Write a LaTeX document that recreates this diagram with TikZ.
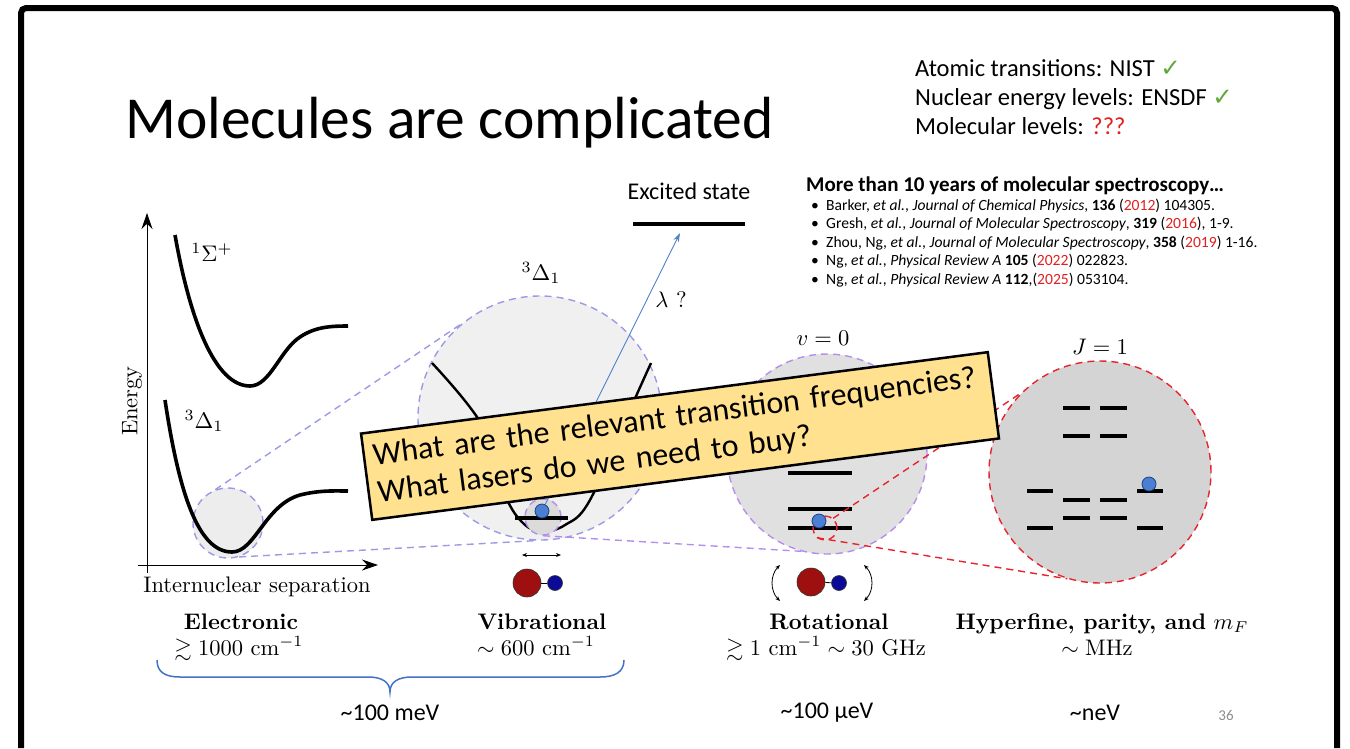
\documentclass[tikz,border=0pt]{standalone}
\usepackage{amsmath,amssymb}
\usepackage{graphicx}
\usepackage{fontspec}
\newfontfamily\carlito{Carlito}
\newfontfamily\dejavu{DejaVu Sans}
\usetikzlibrary{arrows.meta}

\definecolor{lavblue}{HTML}{9C9AE4}
\definecolor{lavviolet}{HTML}{B78DEB}
\definecolor{zoomred}{HTML}{E8232D}
\definecolor{ballblue}{HTML}{4A7FD3}
\definecolor{balledge}{HTML}{1E3F80}
\definecolor{atomred}{HTML}{9E1010}
\definecolor{atomblue}{HTML}{0B0B98}
\definecolor{arrowblue}{HTML}{4F81C8}
\definecolor{bracecol}{HTML}{4472C4}
\definecolor{notegold}{HTML}{FFE18F}
\definecolor{checkgreen}{HTML}{5DAA3A}
\definecolor{yearred}{HTML}{E02020}

% Computer Modern labels, set at 10pt and enlarged
\newcommand{\lmx}[1]{\scalebox{2.25}{#1}}
% Carlito at a given size (and line distance)
\newcommand{\csize}[1]{\carlito\fontsize{#1}{#1}\selectfont}
\newcommand{\csizeb}[2]{\carlito\fontsize{#1}{#2}\selectfont}
\newcommand{\okmark}{{\dejavu\color{checkgreen}✓}}

\tikzset{
  txt/.style={inner sep=0pt},
  potcurve/.style={line width=3.6pt},
  levelbar/.style={line width=3.6pt},
  ring/.style={circle, inner sep=0pt, line width=1.4pt, dash pattern=on 7pt off 5pt},
  guide/.style={line width=1.4pt, dash pattern=on 7pt off 5pt},
  ball/.style={circle, inner sep=0pt, minimum size=14pt, fill=ballblue, draw=balledge, line width=0.8pt},
  bigatom/.style={circle, inner sep=0pt, minimum size=28pt, fill=atomred, draw=black!80, line width=0.6pt},
  smallatom/.style={circle, inner sep=0pt, minimum size=15pt, fill=atomblue, draw=black!80, line width=0.6pt},
  refline/.style={txt, anchor=base west, font=\csize{15.6}},
  axis/.style={line width=0.9pt, -{Stealth[length=16pt,width=11pt]}},
}

\begin{document}
\begin{tikzpicture}[x=1pt,y=-1pt]
\useasboundingbox (0,0) rectangle (1350,748);

% slide frame
\draw[line width=6pt, rounded corners=5pt] (21,748) -- (21,8) -- (1337,8) -- (1337,748);

% title and notes
\node[txt, anchor=base west, font=\csize{59.5}] (title) at (125,138) {Molecules are complicated};
\node[txt, anchor=base west, font=\csize{24.5}] (nist) at (915,76) {Atomic transitions: NIST \okmark};
\node[txt, anchor=base west, font=\csize{24.5}] (ensdf) at (915,105) {Nuclear energy levels: ENSDF \okmark};
\node[txt, anchor=base west, font=\csize{24.5}] (mol) at (915,134) {Molecular levels: \textcolor{yearred}{???}};

% references
\node[txt, anchor=base west, font=\csize{21}\bfseries] (refhead) at (806,191) {More than 10 years of molecular spectroscopy…};
\node[refline] (b1) at (811,210) {•};
\node[refline] (b2) at (811,228.5) {•};
\node[refline] (b3) at (811,247) {•};
\node[refline] (b4) at (811,265.5) {•};
\node[refline] (b5) at (811,284) {•};
\node[refline] (r1) at (826,210) {Barker, \textit{et al.}, \textit{Journal of Chemical Physics}, \textbf{136} (\textcolor{yearred}{2012}) 104305.};
\node[refline] (r2) at (826,228.5) {Gresh, \textit{et al.}, \textit{Journal of Molecular Spectroscopy}, \textbf{319} (\textcolor{yearred}{2016}), 1-9.};
\node[refline] (r3) at (826,247) {Zhou, Ng, \textit{et al.}, \textit{Journal of Molecular Spectroscopy}, \textbf{358} (\textcolor{yearred}{2019}) 1-16.};
\node[refline] (r4) at (826,265.5) {Ng, \textit{et al.}, \textit{Physical Review A} \textbf{105} (\textcolor{yearred}{2022}) 022823.};
\node[refline] (r5) at (826,284) {Ng, \textit{et al.}, \textit{Physical Review A} \textbf{112},(\textcolor{yearred}{2025}) 053104.};

% ---------------- electronic potentials ----------------
\node[ring, minimum size=70pt, fill=black!7, draw=lavblue] (lc) at (228,523) {};
\draw[axis] (147,573) -- (147,213);
\draw[axis] (138,565) -- (378,565);
\draw[potcurve] (175,235) .. controls (190,320) and (215,386) .. (250,386)
  .. controls (270,386) and (280,350) .. (300,337)
  .. controls (315,327) and (330,326) .. (348,326);
\draw[potcurve] (165,400) .. controls (180,500) and (200,552) .. (232,552)
  .. controls (255,552) and (265,505) .. (300,495)
  .. controls (320,490) and (335,491) .. (348,491);
\node[txt] (sig) at (212,252) {\lmx{$^1\Sigma^+$}};
\node[txt] (del) at (204,421) {\lmx{$^3\Delta_1$}};
\node[txt, rotate=90] (energy) at (132,401) {\lmx{Energy}};
\node[txt] (rsep) at (257,587) {\lmx{Internuclear separation}};

% ---------------- vibrational ----------------
\node[ring, minimum size=244pt, fill=black!6, draw=lavblue] (vc) at (540,418) {};
\draw[guide, lavblue] (lc.111) -- (vc.130);
\draw[guide, lavblue] (lc.-72) -- (vc.-92);
\node[txt] (vdel) at (541,273) {\lmx{$^3\Delta_1$}};
\draw[line width=2.4pt] plot[smooth, tension=0.6] coordinates {(432,363) (482,425) (505,495) (524,524) (543,531) (565,525) (590,500) (633,403) (651,363)};
\node[ring, minimum size=36pt, fill=black!14, draw=lavviolet] (vs) at (543,517) {};
\coordinate (vl1) at (515,518);
\coordinate (vl2) at (568,518);
\draw[levelbar] (vl1) -- (vl2);
\node[ball] (vball) at (542,511) {};

% excitation
\node[txt, font=\csize{24}] (exc) at (689,191) {Excited state};
\coordinate (ex1) at (633,224);
\coordinate (ex2) at (745,224);
\draw[levelbar] (ex1) -- (ex2);
\coordinate (extip) at (680,233);
\draw[arrowblue, line width=0.9pt, -{Stealth[length=9pt,width=6pt]}] (vball) -- (extip);
\node[txt] (lam) at (671,300) {\lmx{$\lambda$ ?}};

% stretching molecule
\coordinate (va1) at (522,555);
\coordinate (va2) at (561,555);
\draw[line width=0.8pt, {Stealth[length=5pt,width=4pt]}-{Stealth[length=5pt,width=4pt]}] (va1) -- (va2);
\node[bigatom] (vred) at (527,583) {};
\node[smallatom] (vblue) at (555,583) {};
\draw[line width=0.8pt] (vred) -- (vblue);

% ---------------- rotational ----------------
\node[ring, minimum size=200pt, fill=black!12, draw=lavviolet] (rc) at (827,454) {};
\draw[guide, lavviolet] (vs.100) -- (rc.132);
\draw[guide, lavviolet] (vs.-90) -- (rc.-105);
\node[txt] (vzero) at (823,338) {\lmx{$v=0$}};
\coordinate (rl1a) at (788,473); \coordinate (rl1b) at (852,473);
\coordinate (rl2a) at (788,509); \coordinate (rl2b) at (852,509);
\coordinate (rl3a) at (788,528); \coordinate (rl3b) at (852,528);
\draw[levelbar] (rl1a) -- (rl1b);
\draw[levelbar] (rl2a) -- (rl2b);
\draw[levelbar] (rl3a) -- (rl3b);
\node[ring, minimum size=24pt, draw=zoomred] (rs) at (825,528) {};
\node[ball] (rball) at (819,521) {};

% rotating molecule
\node[bigatom] (rred) at (811,582) {};
\node[smallatom] (rblue) at (839,583) {};
\draw[line width=0.8pt] (rred) -- (rblue);
\coordinate (ra1) at (780,565); \coordinate (ra2) at (780,601);
\coordinate (ra3) at (864,565); \coordinate (ra4) at (864,601);
\draw[line width=0.8pt, {Stealth[length=5pt,width=4pt]}-{Stealth[length=5pt,width=4pt]}] (ra1) to[bend right=45] (ra2);
\draw[line width=0.8pt, {Stealth[length=5pt,width=4pt]}-{Stealth[length=5pt,width=4pt]}] (ra3) to[bend left=45] (ra4);

% ---------------- hyperfine ----------------
\node[ring, minimum size=222pt, fill=black!17, draw=zoomred] (hc) at (1100,472) {};
\draw[guide, zoomred] (rs.50) -- (hc.135);
\draw[guide, zoomred] (rs.-130) -- (hc.-107);
\node[txt] (jone) at (1100,347) {\lmx{$J=1$}};
\foreach \xa/\xb/\yy [count=\k] in {1063/1090/408, 1100/1127/408, 1063/1090/436, 1100/1127/436,
    1027/1053/491, 1137/1163/491, 1063/1090/500, 1100/1127/500,
    1063/1090/518, 1100/1127/518, 1027/1053/528, 1137/1163/528}{
  \coordinate (h\k a) at (\xa,\yy);
  \coordinate (h\k b) at (\xb,\yy);
  \draw[levelbar] (h\k a) -- (h\k b);
}
\node[ball] (hball) at (1149,484) {};

% ---------------- scale labels ----------------
\node[txt, anchor=base] (lel) at (241,629) {\lmx{\textbf{Electronic}}};
\node[txt, anchor=base] (lelv) at (239,655) {\lmx{$\gtrsim 1000\ \mathrm{cm}^{-1}$}};
\node[txt, anchor=base] (lvi) at (542,629) {\lmx{\textbf{Vibrational}}};
\node[txt, anchor=base] (lviv) at (536,655) {\lmx{$\sim 600\ \mathrm{cm}^{-1}$}};
\node[txt, anchor=base] (lro) at (829,629) {\lmx{\textbf{Rotational}}};
\node[txt, anchor=base] (lrov) at (826,655) {\lmx{$\gtrsim 1\ \mathrm{cm}^{-1} \sim 30\ \mathrm{GHz}$}};
\node[txt, anchor=base] (lhf) at (1102,629) {\lmx{\textbf{Hyperfine, parity, and} $m_F$}};
\node[txt, anchor=base] (lhfv) at (1097,655) {\lmx{$\sim \mathrm{MHz}$}};

\draw[bracecol, line width=1.5pt] (157,660) .. controls (157,672) and (165,677) .. (180,677)
  -- (368,677) .. controls (382,677) and (390,682) .. (390,692)
  .. controls (390,682) and (398,677) .. (412,677)
  -- (600,677) .. controls (615,677) and (624,672) .. (624,660);

\node[txt, font=\csize{24}] (emev) at (390,713) {\textasciitilde100 meV};
\node[txt, font=\csize{24}] (emuev) at (827,713) {\textasciitilde100 μeV};
\node[txt, font=\csize{24}] (enev) at (1095,713) {\textasciitilde neV};
\node[txt, font=\csize{15}, text=black!45] (pageno) at (1226,715) {36};

% ---------------- question note ----------------
\node[draw, line width=2.5pt, fill=notegold, rotate=7.4, minimum width=632pt, minimum height=87pt,
  inner sep=8pt, text width=614pt, align=left, font=\csizeb{32}{37}] (note) at (680,436)
  {What are the relevant transition frequencies?\\What lasers do we need to buy?};
\end{tikzpicture}
\end{document}
